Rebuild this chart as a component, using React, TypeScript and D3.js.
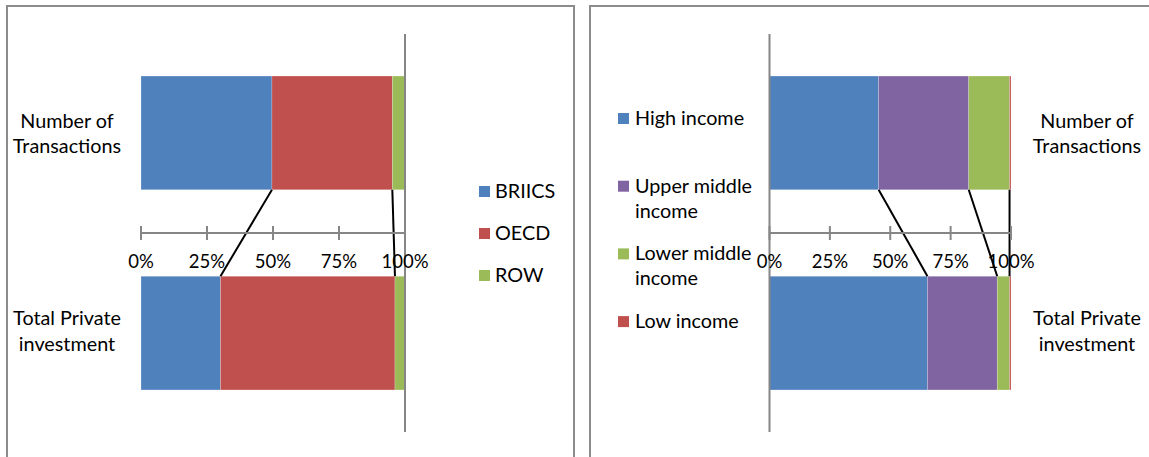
import React from "react";
import * as d3 from "d3";

// Categories (top to bottom)
const categories = ["Number of Transactions", "Total Private investment"];
const categoryLines = [["Number of", "Transactions"], ["Total Private", "investment"]];

// Left chart: share by region (%)
const regionSeries = ["BRIICS", "OECD", "ROW"];
const briics = [49.6, 30.1];
const oecd = [45.6, 66.1];
const row = [4.8, 3.8];

// Right chart: share by income group (%)
const incomeSeries = ["High income", "Upper middle income", "Lower middle income", "Low income"];
const incomeLegendLines = [["High income"], ["Upper middle", "income"], ["Lower middle", "income"], ["Low income"]];
const highIncome = [45.2, 65.4];
const upperMiddle = [37.3, 28.9];
const lowerMiddle = [16.9, 5.1];
const lowIncome = [0.6, 0.6];

const tickValues = [0, 0.25, 0.5, 0.75, 1];

const COLORS = {
  blue: "#4F81BD",
  red: "#C0504D",
  green: "#9BBB59",
  purple: "#8064A2",
};
const regionColors = [COLORS.blue, COLORS.red, COLORS.green];
const incomeColors = [COLORS.blue, COLORS.purple, COLORS.green, COLORS.red];

const FONT = "Lato, 'Open Sans', sans-serif";
const FS = 19.8;
const TICK_FS = 18.5;
const AXIS = "#868686";

type StackChartProps = {
  x0: number;
  x1: number;
  valueAxisAt: "start" | "end";
  series: number[][];
  colors: string[];
};

function StackChart({ x0, x1, valueAxisAt, series, colors }: StackChartProps) {
  const x = d3.scaleLinear().domain([0, 1]).range([x0, x1]);
  const y = d3
    .scaleBand<string>()
    .domain(categories)
    .range([34, 432])
    .paddingInner(0.432)
    .paddingOuter(0.21);
  const bw = y.bandwidth();

  // stacked rows: for each category, cumulative boundaries
  const stacks = categories.map((_, ci) => {
    let acc = 0;
    return series.map((s) => {
      const start = acc;
      acc += s[ci] / 100;
      return [start, acc];
    });
  });

  const axisY = (y(categories[0])! + bw + y(categories[1])!) / 2;
  const vx = valueAxisAt === "start" ? x(0) : x(1);
  const fmt = d3.format(".0%");

  return (
    <g>
      {/* bars */}
      {categories.map((c, ci) => (
        <g key={c}>
          {stacks[ci].map(([a, b], si) => (
            <rect
              key={si}
              x={x(a)}
              y={y(c)}
              width={Math.max(0, x(b) - x(a))}
              height={bw}
              fill={colors[si]}
              stroke="#ffffff"
              strokeOpacity={0.35}
              strokeWidth={0.6}
            />
          ))}
        </g>
      ))}
      {/* series lines between the two bars (all series except the last) */}
      {series.slice(0, -1).map((_, si) => (
        <line
          key={si}
          x1={x(stacks[0][si][1])}
          y1={y(categories[0])! + bw}
          x2={x(stacks[1][si][1])}
          y2={y(categories[1])!}
          stroke="#000"
          strokeWidth={2}
        />
      ))}
      {/* category axis */}
      <line x1={vx} x2={vx} y1={34} y2={432} stroke={AXIS} strokeWidth={2} />
      {/* value axis */}
      <line x1={x(0)} x2={x(1)} y1={axisY} y2={axisY} stroke={AXIS} strokeWidth={2} />
      {tickValues.map((t) => (
        <g key={t}>
          <line x1={x(t)} x2={x(t)} y1={axisY - 7} y2={axisY + 7} stroke={AXIS} strokeWidth={2} />
          <text
            x={x(t)}
            y={axisY + 35}
            textAnchor="middle"
            fontFamily={FONT}
            fontSize={TICK_FS}
            fill="#000"
          >
            {fmt(t)}
          </text>
        </g>
      ))}
    </g>
  );
}

export default function App() {
  const regionData = [briics, oecd, row];
  const incomeData = [highIncome, upperMiddle, lowerMiddle, lowIncome];

  const catBaselines = [
    [128, 153],
    [325, 351],
  ];

  return (
    <div style={{ position: "absolute", left: 0, top: 0 }}>
      <svg width={1149} height={457} style={{ display: "block", background: "#fff" }}>
        {/* panel frames */}
        <rect x={7} y={6} width={567} height={470} fill="none" stroke="#8C8C8C" strokeWidth={2} />
        <rect x={590} y={6} width={580} height={470} fill="none" stroke="#8C8C8C" strokeWidth={2} />

        {/* Left chart */}
        <StackChart x0={141} x1={405} valueAxisAt="end" series={regionData} colors={regionColors} />
        {categoryLines.map((lines, ci) =>
          lines.map((l, li) => (
            <text
              key={`l${ci}${li}`}
              x={67}
              y={catBaselines[ci][li]}
              textAnchor="middle"
              fontFamily={FONT}
              fontSize={FS}
              fill="#000"
            >
              {l}
            </text>
          ))
        )}
        {regionSeries.map((name, i) => (
          <g key={name}>
            <rect x={479} y={186 + i * 42} width={11} height={11} fill={regionColors[i]} />
            <text x={495} y={198 + i * 42} fontFamily={FONT} fontSize={FS} fill="#000">
              {name}
            </text>
          </g>
        ))}

        {/* Right chart */}
        <StackChart x0={769.5} x1={1011} valueAxisAt="start" series={incomeData} colors={incomeColors} />
        {categoryLines.map((lines, ci) =>
          lines.map((l, li) => (
            <text
              key={`r${ci}${li}`}
              x={1087}
              y={catBaselines[ci][li]}
              textAnchor="middle"
              fontFamily={FONT}
              fontSize={FS}
              fill="#000"
            >
              {l}
            </text>
          ))
        )}
        {incomeSeries.map((name, i) => (
          <g key={name}>
            <rect x={618} y={113 + i * 67.7} width={11} height={11} fill={incomeColors[i]} />
            {incomeLegendLines[i].map((l, li) => (
              <text
                key={li}
                x={635}
                y={125 + i * 67.7 + li * 25}
                fontFamily={FONT}
                fontSize={FS}
                fill="#000"
              >
                {l}
              </text>
            ))}
          </g>
        ))}
      </svg>
    </div>
  );
}
